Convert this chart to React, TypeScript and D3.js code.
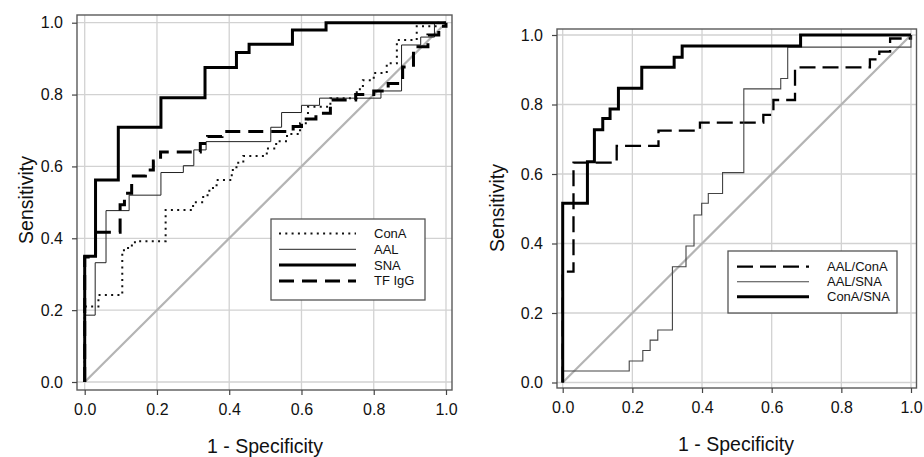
import React, { useEffect, useRef } from "react";
import * as d3 from "d3";

// ---- data: ROC corner points (1 - specificity, sensitivity) ----
const conaX = [0, 0, 0.038, 0.104, 0.12, 0.139, 0.224, 0.3, 0.328, 0.345, 0.365, 0.407, 0.42, 0.439, 0.504, 0.53, 0.56, 0.596, 0.618, 0.68, 0.753, 0.77, 0.8, 0.836, 0.864, 0.919, 0.974, 1];
const conaY = [0, 0.21, 0.242, 0.367, 0.38, 0.392, 0.479, 0.5, 0.52, 0.54, 0.562, 0.59, 0.61, 0.629, 0.65, 0.67, 0.69, 0.72, 0.766, 0.79, 0.815, 0.84, 0.86, 0.887, 0.952, 0.99, 1, 1];

const aalX = [0, 0, 0.029, 0.059, 0.123, 0.211, 0.273, 0.302, 0.336, 0.515, 0.545, 0.6, 0.65, 0.82, 0.877, 0.93, 0.968, 1];
const aalY = [0, 0.186, 0.332, 0.477, 0.52, 0.583, 0.602, 0.646, 0.669, 0.709, 0.75, 0.77, 0.79, 0.81, 0.938, 0.96, 1, 1];

const snaX = [0, 0, 0.03, 0.093, 0.211, 0.333, 0.42, 0.455, 0.575, 0.668, 1];
const snaY = [0, 0.35, 0.562, 0.709, 0.791, 0.875, 0.917, 0.94, 0.98, 1, 1];

const tfX = [0, 0, 0.03, 0.098, 0.11, 0.13, 0.168, 0.19, 0.21, 0.32, 0.34, 0.38, 0.577, 0.6, 0.64, 0.68, 0.75, 0.8, 0.84, 0.88, 0.91, 0.95, 0.98, 1];
const tfY = [0, 0.348, 0.417, 0.493, 0.525, 0.573, 0.59, 0.615, 0.64, 0.664, 0.683, 0.697, 0.711, 0.732, 0.748, 0.785, 0.8, 0.81, 0.831, 0.877, 0.933, 0.966, 0.99, 1];

const aalConaX = [0, 0, 0.031, 0.155, 0.275, 0.394, 0.576, 0.605, 0.667, 0.882, 0.909, 0.94, 1];
const aalConaY = [0, 0.319, 0.633, 0.681, 0.725, 0.748, 0.77, 0.813, 0.907, 0.93, 0.952, 0.99, 1];

const aalSnaX = [0, 0, 0.191, 0.23, 0.251, 0.273, 0.315, 0.354, 0.377, 0.399, 0.418, 0.459, 0.52, 0.626, 0.646, 1];
const aalSnaY = [0, 0.033, 0.062, 0.092, 0.122, 0.151, 0.333, 0.393, 0.482, 0.516, 0.544, 0.604, 0.845, 0.875, 0.965, 1];

const conaSnaX = [0, 0, 0.071, 0.091, 0.115, 0.136, 0.16, 0.227, 0.32, 0.343, 0.683, 1];
const conaSnaY = [0, 0.516, 0.635, 0.727, 0.76, 0.787, 0.847, 0.907, 0.936, 0.968, 1, 1];

const tickValues = [0, 0.2, 0.4, 0.6, 0.8, 1.0];
const xTitle = "1 - Specificity";
const yTitle = "Sensitivity";

const leftSeries = [
  { name: "ConA", xs: conaX, ys: conaY, width: 2, dash: "2,4.3", color: "#111" },
  { name: "AAL", xs: aalX, ys: aalY, width: 1, dash: null, color: "#222" },
  { name: "SNA", xs: snaX, ys: snaY, width: 3, dash: null, color: "#000" },
  { name: "TF IgG", xs: tfX, ys: tfY, width: 3, dash: "15,8", color: "#000" },
];
const rightSeries = [
  { name: "AAL/ConA", xs: aalConaX, ys: aalConaY, width: 2.3, dash: "16,7", color: "#000" },
  { name: "AAL/SNA", xs: aalSnaX, ys: aalSnaY, width: 1.1, dash: null, color: "#444" },
  { name: "ConA/SNA", xs: conaSnaX, ys: conaSnaY, width: 3, dash: null, color: "#000" },
];

const panels = [
  {
    series: leftSeries,
    frame: { l: 77, t: 15, r: 452, b: 390 },
    xr: [84.7, 446], yr: [382, 22.7],
    yTitleX: 33, yTitleY: 200, xTitleX: 265, xTitleY: 453,
    legend: { l: 271, t: 219, w: 154, h: 81, y0: 233.5, dy: 15.8, lx0: 279, lx1: 356, tx: 374 },
  },
  {
    series: rightSeries,
    frame: { l: 557, t: 29, r: 916.5, b: 388 },
    xr: [562.7, 911], yr: [382.5, 35],
    yTitleX: 504, yTitleY: 208, xTitleX: 736, xTitleY: 451,
    legend: { l: 728, t: 251, w: 169, h: 62, y0: 266.7, dy: 15, lx0: 737, lx1: 809, tx: 827 },
  },
];

const FONT = "Liberation Sans, Arial, sans-serif";

export default function App() {
  const ref = useRef<SVGSVGElement>(null);

  useEffect(() => {
    const svg = d3.select(ref.current);
    svg.selectAll("*").remove();

    panels.forEach((p) => {
      const x = d3.scaleLinear().domain([0, 1]).range(p.xr);
      const y = d3.scaleLinear().domain([0, 1]).range(p.yr);
      const f = p.frame;
      const g = svg.append("g");

      // grid
      g.selectAll(".gx").data(tickValues).enter().append("line")
        .attr("x1", (d) => x(d)).attr("x2", (d) => x(d))
        .attr("y1", f.t).attr("y2", f.b)
        .attr("stroke", "#d2d2d2").attr("stroke-width", 1.3);
      g.selectAll(".gy").data(tickValues).enter().append("line")
        .attr("y1", (d) => y(d)).attr("y2", (d) => y(d))
        .attr("x1", f.l).attr("x2", f.r)
        .attr("stroke", "#d2d2d2").attr("stroke-width", 1.3);

      // diagonal reference
      g.append("line")
        .attr("x1", x(0)).attr("y1", y(0)).attr("x2", x(1)).attr("y2", y(1))
        .attr("stroke", "#b4b4b4").attr("stroke-width", 2.2);

      // curves
      p.series.forEach((s) => {
        const pts: [number, number][] = s.xs.map((v, i) => [v, s.ys[i]]);
        const line = d3.line<[number, number]>()
          .x((d) => x(d[0])).y((d) => y(d[1]))
          .curve(d3.curveStepAfter);
        g.append("path")
          .attr("d", line(pts))
          .attr("fill", "none")
          .attr("stroke", s.color)
          .attr("stroke-width", s.width)
          .attr("stroke-dasharray", s.dash);
      });

      // frame
      g.append("rect")
        .attr("x", f.l).attr("y", f.t)
        .attr("width", f.r - f.l).attr("height", f.b - f.t)
        .attr("fill", "none").attr("stroke", "#5a5a5a").attr("stroke-width", 1.4);

      // axes
      const xAxis = g.append("g")
        .attr("transform", `translate(0,${f.b})`)
        .call(d3.axisBottom(x).tickValues(tickValues).tickFormat(d3.format(".1f")).tickSize(5).tickSizeOuter(0).tickPadding(9));
      const yAxis = g.append("g")
        .attr("transform", `translate(${f.l},0)`)
        .call(d3.axisLeft(y).tickValues(tickValues).tickFormat(d3.format(".1f")).tickSize(5).tickSizeOuter(0).tickPadding(9));
      [xAxis, yAxis].forEach((a) => {
        a.select(".domain").remove();
        a.selectAll("line").attr("stroke", "#444").attr("stroke-width", 1.2);
        a.selectAll("text").attr("font-family", FONT).attr("font-size", 16).attr("fill", "#111");
      });

      // titles
      g.append("text")
        .attr("x", p.xTitleX).attr("y", p.xTitleY)
        .attr("text-anchor", "middle")
        .attr("font-family", FONT).attr("font-size", 19.5).attr("fill", "#111")
        .text(xTitle);
      g.append("text")
        .attr("transform", `translate(${p.yTitleX},${p.yTitleY}) rotate(-90)`)
        .attr("text-anchor", "middle")
        .attr("font-family", FONT).attr("font-size", 19.5).attr("fill", "#111")
        .text(yTitle);

      // legend
      const L = p.legend;
      const lg = g.append("g");
      lg.append("rect")
        .attr("x", L.l).attr("y", L.t).attr("width", L.w).attr("height", L.h)
        .attr("fill", "#fff").attr("stroke", "#555").attr("stroke-width", 1.3);
      p.series.forEach((s, i) => {
        const yy = L.y0 + i * L.dy;
        lg.append("line")
          .attr("x1", L.lx0).attr("x2", L.lx1).attr("y1", yy).attr("y2", yy)
          .attr("stroke", s.color).attr("stroke-width", s.width)
          .attr("stroke-dasharray", s.dash);
        lg.append("text")
          .attr("x", L.tx).attr("y", yy + 4.5)
          .attr("font-family", FONT).attr("font-size", 13).attr("fill", "#111")
          .text(s.name);
      });
    });
  }, []);

  return (
    <div style={{ position: "absolute", left: 0, top: 0 }}>
      <svg ref={ref} width={924} height={457} style={{ display: "block", background: "#fff" }} />
    </div>
  );
}
